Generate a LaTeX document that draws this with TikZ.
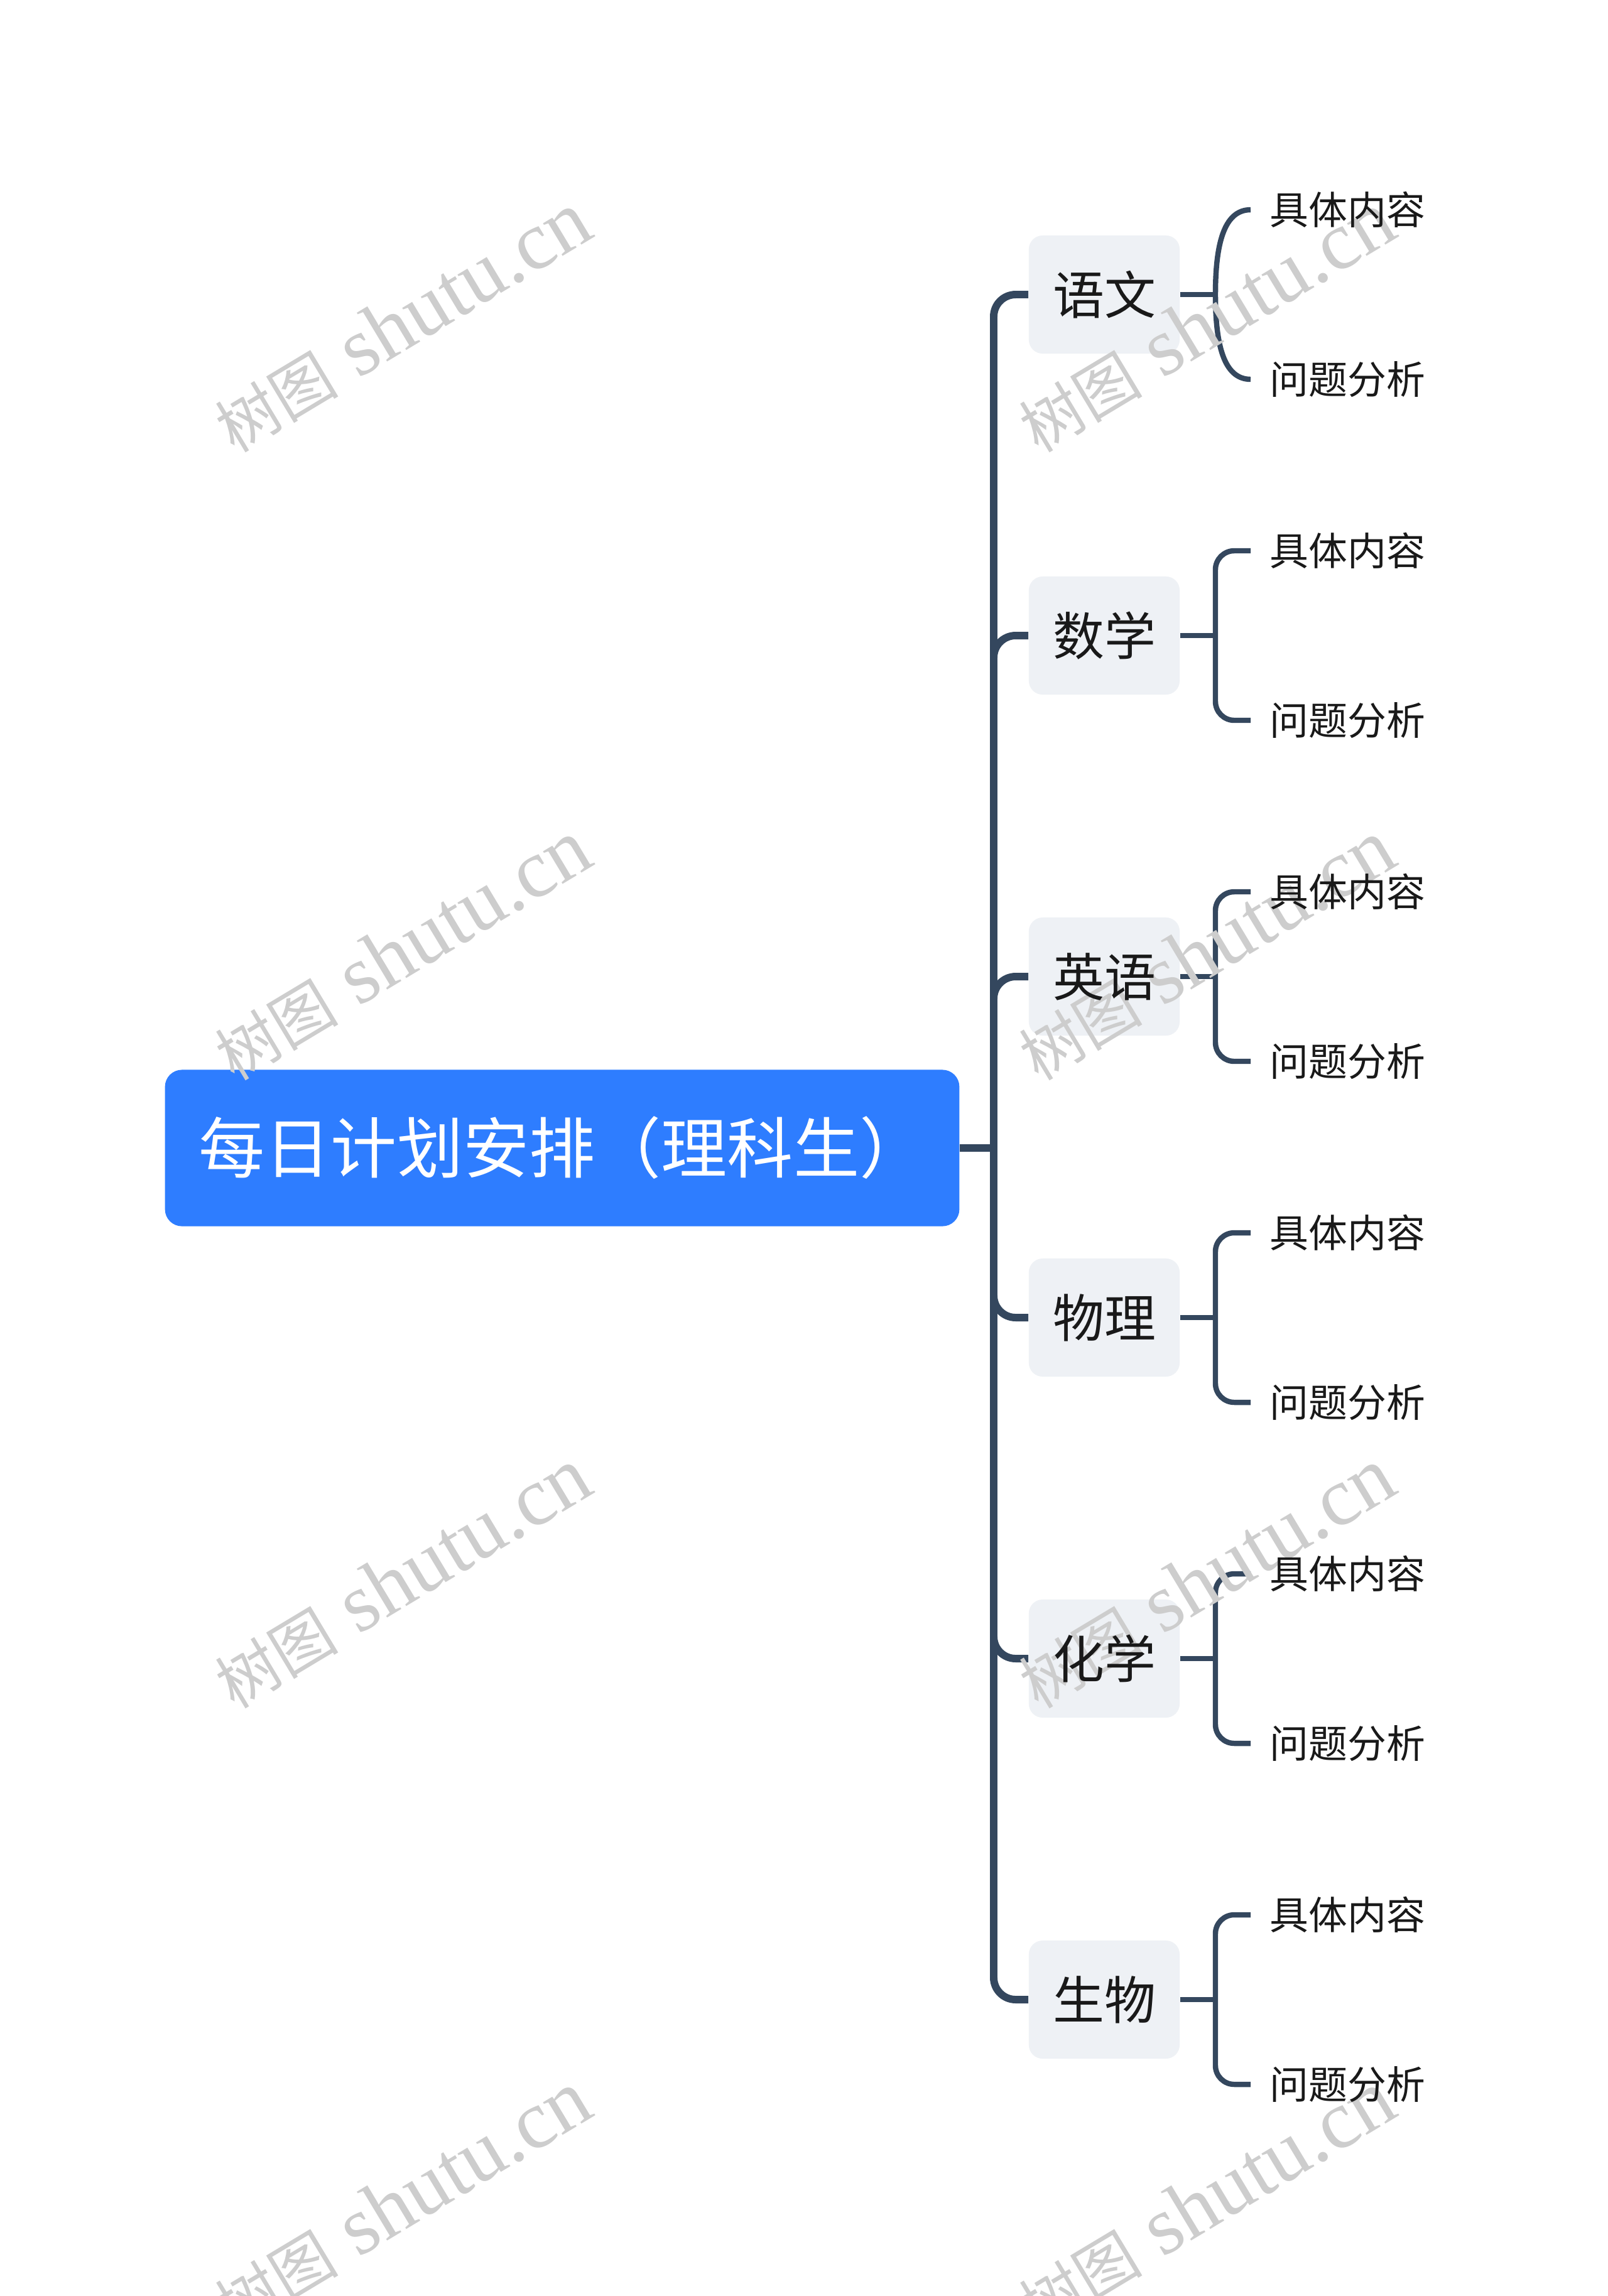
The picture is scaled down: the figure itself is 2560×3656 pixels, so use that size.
\documentclass[tikz,border=0pt]{standalone}
\usepackage{fontspec}
\newfontfamily\cjk{Noto Sans CJK SC}
\newfontfamily\wmlatin{Liberation Serif}
\definecolor{linec}{RGB}{52,71,94}
\definecolor{rootc}{RGB}{46,125,255}
\definecolor{boxc}{RGB}{238,241,245}
\definecolor{txtc}{RGB}{25,25,25}
\definecolor{wmc}{RGB}{205,205,205}
\pgfdeclarelayer{front}
\pgfsetlayers{main,front}
\begin{document}
\begin{tikzpicture}[x=0.01cm,y=-0.01cm,
  rootbox/.style={fill=rootc, rounded corners=0.27cm, minimum width=12.64cm, minimum height=2.49cm, inner sep=0pt},
  roottext/.style={inner sep=0pt, text=white, font=\cjk\fontsize{29.9pt}{31pt}\selectfont},
  subbox/.style={fill=boxc, rounded corners=0.22cm, minimum width=2.4cm, minimum height=1.88cm, inner sep=0pt},
  subtext/.style={inner sep=0pt, text=txtc, font=\cjk\fontsize{23.3pt}{25pt}\selectfont},
  leaf/.style={anchor=west, inner xsep=0.3cm, inner ysep=0pt, text=txtc, font=\cjk\fontsize{17.6pt}{19pt}\selectfont},
  trunk/.style={draw=linec, line width=3.4pt},
  twig/.style={draw=linec, line width=2.4pt},
  wm/.style={text=wmc, rotate=31, inner sep=0pt}
]
\useasboundingbox (0,0) rectangle (2560,3656);
\fill[white] (0,0) rectangle (2560,3656);

% root
\node[rootbox] (root) at (895,1828) {};
\begin{pgfonlayer}{front}
\node[roottext] (roottxt) at (root.center) {每日计划安排（理科生）};
\end{pgfonlayer}
\coordinate (J) at (1582,1828);
\draw[trunk] (root.east) -- (J);

% branches
\foreach \name/\txt/\y in {b1/语文/469, b2/数学/1012, b3/英语/1555, b4/物理/2098, b5/化学/2641, b6/生物/3184}{
  \node[subbox] (\name) at (1758,\y) {};
  \begin{pgfonlayer}{front}
    \node[subtext] (\name t) at (\name.center) {\txt};
    \node[leaf] (\name a) at (1991,\y-135) {具体内容};
    \node[leaf] (\name b) at (1991,\y+135) {问题分析};
  \end{pgfonlayer}
  \draw[trunk, rounded corners=0.35cm] (J) |- (\name.west);
  \coordinate (\name j) at (1935,\y);
  \draw[twig] (\name.east) -- (\name j);
}

% first brace is curved
\draw[twig] (b1a.west) .. controls (1948,334) and (1935,390) .. (b1j) .. controls (1935,548) and (1948,604) .. (b1b.west);
% the other braces with rounded corners
\foreach \name in {b2,b3,b4,b5,b6}{
  \draw[twig, rounded corners=0.3cm] (\name j) |- (\name a.west);
  \draw[twig, rounded corners=0.3cm] (\name j) |- (\name b.west);
}

% watermarks
\foreach \x/\y/\k in {640/513/1, 1920/513/2, 640/1513/3, 1920/1513/4, 640/2513/5, 1920/2513/6, 640/3505/7, 1920/3505/8}{
  \node[wm] (wm\k) at (\x,\y) {{\cjk\fontsize{28pt}{30pt}\selectfont 树图}{\wmlatin\fontsize{37.5pt}{39pt}\selectfont\ shutu.cn}};
}
\end{tikzpicture}
\end{document}
